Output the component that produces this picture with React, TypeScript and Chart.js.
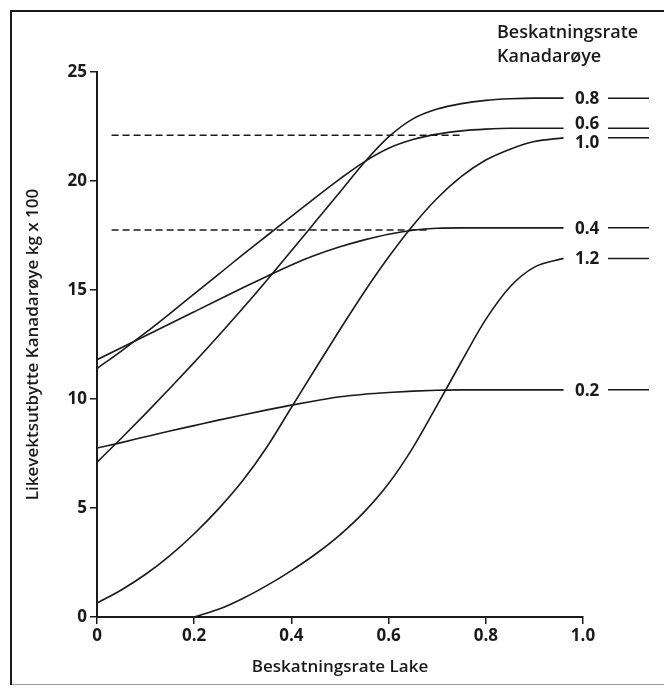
import React, { useEffect, useRef } from "react";
import { Chart, registerables } from "chart.js";

Chart.register(...registerables);

// Beskatningsrate Lake (x)
const LAKE_RATE = [0, 0.05, 0.1, 0.15, 0.2, 0.25, 0.3, 0.35, 0.4, 0.45, 0.5, 0.55, 0.6, 0.65, 0.7, 0.75, 0.8, 0.85, 0.9, 0.96];

// Likevektsutbytte Kanadarøye (kg x 100) for each Kanadarøye harvest rate
const YIELD_02 = [7.75, 8.0, 8.27, 8.53, 8.78, 9.03, 9.27, 9.5, 9.72, 9.92, 10.1, 10.22, 10.3, 10.36, 10.4, 10.42, 10.42, 10.42, 10.42, 10.42];
const YIELD_04 = [11.8, 12.35, 12.9, 13.45, 14.0, 14.55, 15.1, 15.63, 16.15, 16.6, 16.98, 17.3, 17.56, 17.74, 17.83, 17.85, 17.85, 17.85, 17.85, 17.85];
const YIELD_06 = [11.4, 12.2, 13.04, 13.92, 14.82, 15.72, 16.62, 17.5, 18.38, 19.25, 20.1, 20.88, 21.5, 21.9, 22.15, 22.3, 22.38, 22.42, 22.42, 22.42];
const YIELD_08 = [7.1, 8.2, 9.33, 10.49, 11.68, 12.9, 14.16, 15.46, 16.8, 18.15, 19.5, 20.85, 22.02, 22.85, 23.3, 23.55, 23.7, 23.77, 23.8, 23.8];
const YIELD_10 = [0.64, 1.24, 1.96, 2.82, 3.82, 4.96, 6.26, 7.81, 9.61, 11.41, 13.19, 14.91, 16.51, 17.96, 19.21, 20.21, 20.96, 21.46, 21.81, 21.98];
const YIELD_12 = [null, null, null, null, 0, 0.35, 0.85, 1.45, 2.13, 2.89, 3.77, 4.82, 6.12, 7.77, 9.72, 11.72, 13.65, 15.15, 16.05, 16.45];

const SERIES_LABELS = ["0.2", "0.4", "0.6", "0.8", "1.0", "1.2"];
const SERIES_VALUES = [YIELD_02, YIELD_04, YIELD_06, YIELD_08, YIELD_10, YIELD_12];

// dashed reference levels
const DASH_LEVELS = [22.1, 17.75];
const DASH_FROM = [0.03, 0.03];
const DASH_TO = [0.75, 0.68];

const X_TICKS = [0, 0.2, 0.4, 0.6, 0.8, 1.0];
const X_TICK_LABELS = ["0", "0.2", "0.4", "0.6", "0.8", "1.0"];

const LEGEND_TITLE = ["Beskatningsrate", "Kanadarøye"];
const X_TITLE = "Beskatningsrate Lake";
const Y_TITLE = "Likevektsutbytte Kanadarøye kg x 100";

const INK = "#1a1a1a";
const FONT = "'Open Sans', 'DejaVu Sans', sans-serif";
const W = 660;
const H = 680;

const labelNudge: Record<string, number> = { "0.6": -5, "1.0": 4 };

const decorPlugin = {
  id: "decor",
  beforeDraw(chart: any) {
    const ctx = chart.ctx;
    ctx.save();
    ctx.fillStyle = "#ffffff";
    ctx.fillRect(0, 0, chart.width, chart.height);
    ctx.strokeStyle = "#9a9a9a";
    ctx.lineWidth = 1;
    ctx.beginPath();
    ctx.moveTo(656.5, 3);
    ctx.lineTo(656.5, 676.5);
    ctx.lineTo(3, 676.5);
    ctx.stroke();
    ctx.strokeStyle = INK;
    ctx.lineWidth = 2;
    ctx.beginPath();
    ctx.moveTo(3, 677);
    ctx.lineTo(3, 3);
    ctx.lineTo(657, 3);
    ctx.stroke();
    ctx.restore();
  },
  afterDatasetsDraw(chart: any) {
    const ctx = chart.ctx;
    const xs = chart.scales.x;
    const ys = chart.scales.y;
    const x1 = xs.getPixelForValue(1.0);
    ctx.save();
    ctx.fillStyle = INK;
    ctx.strokeStyle = INK;
    ctx.textBaseline = "alphabetic";
    ctx.textAlign = "left";
    ctx.font = `600 18px ${FONT}`;
    ctx.fillText(LEGEND_TITLE[0], x1 - 86, 30);
    ctx.fillText(LEGEND_TITLE[1], x1 - 86, 54);
    ctx.font = `700 17px ${FONT}`;
    ctx.textBaseline = "middle";
    SERIES_LABELS.forEach((lab, i) => {
      const vals = SERIES_VALUES[i];
      const yEnd = vals[vals.length - 1] as number;
      const py = ys.getPixelForValue(yEnd);
      ctx.fillText(lab, x1 - 8, py + (labelNudge[lab] || 0) + 1);
      ctx.lineWidth = 1.5;
      ctx.beginPath();
      ctx.moveTo(x1 + 25, py);
      ctx.lineTo(x1 + 66, py);
      ctx.stroke();
    });
    ctx.restore();
  },
};

export default function App() {
  const ref = useRef<HTMLCanvasElement | null>(null);
  useEffect(() => {
    if (!ref.current) return;
    const curves = SERIES_VALUES.map((vals, i) => ({
      label: SERIES_LABELS[i],
      data: LAKE_RATE.map((x, j) => ({ x, y: vals[j] })).filter((p) => p.y !== null),
      borderColor: INK,
      borderWidth: 1.6,
      pointRadius: 0,
      fill: false,
      cubicInterpolationMode: "monotone" as const,
    }));
    const dashes = DASH_LEVELS.map((lvl, i) => ({
      label: "dash" + i,
      data: [
        { x: DASH_FROM[i], y: lvl },
        { x: DASH_TO[i], y: lvl },
      ],
      borderColor: INK,
      borderWidth: 1.6,
      borderDash: [7, 4],
      pointRadius: 0,
      fill: false,
    }));
    const chart = new Chart(ref.current, {
      type: "line",
      data: { datasets: [...dashes, ...curves] as any },
      options: {
        animation: false,
        responsive: false,
        devicePixelRatio: 1,
        layout: { padding: { left: 0, right: 85, top: 64, bottom: 0 } },
        plugins: { legend: { display: false }, tooltip: { enabled: false } },
        elements: { line: { tension: 0 } },
        scales: {
          x: {
            type: "linear",
            min: 0,
            max: 1.0,
            afterFit: (axis: any) => {
              axis.height = 71;
            },
            afterBuildTicks: (axis: any) => {
              axis.ticks = X_TICKS.map((v) => ({ value: v }));
            },
            ticks: {
              color: INK,
              padding: 2,
              font: { family: FONT, size: 17, weight: "700" },
              maxRotation: 0,
              callback: (v: any) => {
                const k = X_TICKS.findIndex((t) => Math.abs(t - Number(v)) < 1e-9);
                return k >= 0 ? X_TICK_LABELS[k] : "";
              },
            },
            grid: { drawOnChartArea: false, drawTicks: true, tickLength: 7, color: INK, lineWidth: 1.5 },
            border: { display: true, color: INK, width: 2 },
            title: {
              display: true,
              text: X_TITLE,
              color: INK,
              font: { family: FONT, size: 17, weight: "600" },
              padding: { top: 0, bottom: 11 },
            },
          },
          y: {
            type: "linear",
            min: 0,
            max: 25,
            afterFit: (axis: any) => {
              axis.width = 89;
            },
            ticks: {
              stepSize: 5,
              color: INK,
              padding: 3,
              font: { family: FONT, size: 17, weight: "700" },
            },
            grid: { drawOnChartArea: false, drawTicks: true, tickLength: 7, color: INK, lineWidth: 1.5 },
            border: { display: true, color: INK, width: 2 },
            title: {
              display: true,
              text: Y_TITLE,
              color: INK,
              font: { family: FONT, size: 17, weight: "600" },
              padding: { top: 15, bottom: 0 },
            },
          },
        },
      },
      plugins: [decorPlugin],
    });
    return () => chart.destroy();
  }, []);
  return (
    <div style={{ width: W, height: H }}>
      <canvas ref={ref} width={W} height={H} style={{ display: "block", width: W, height: H }} />
    </div>
  );
}
